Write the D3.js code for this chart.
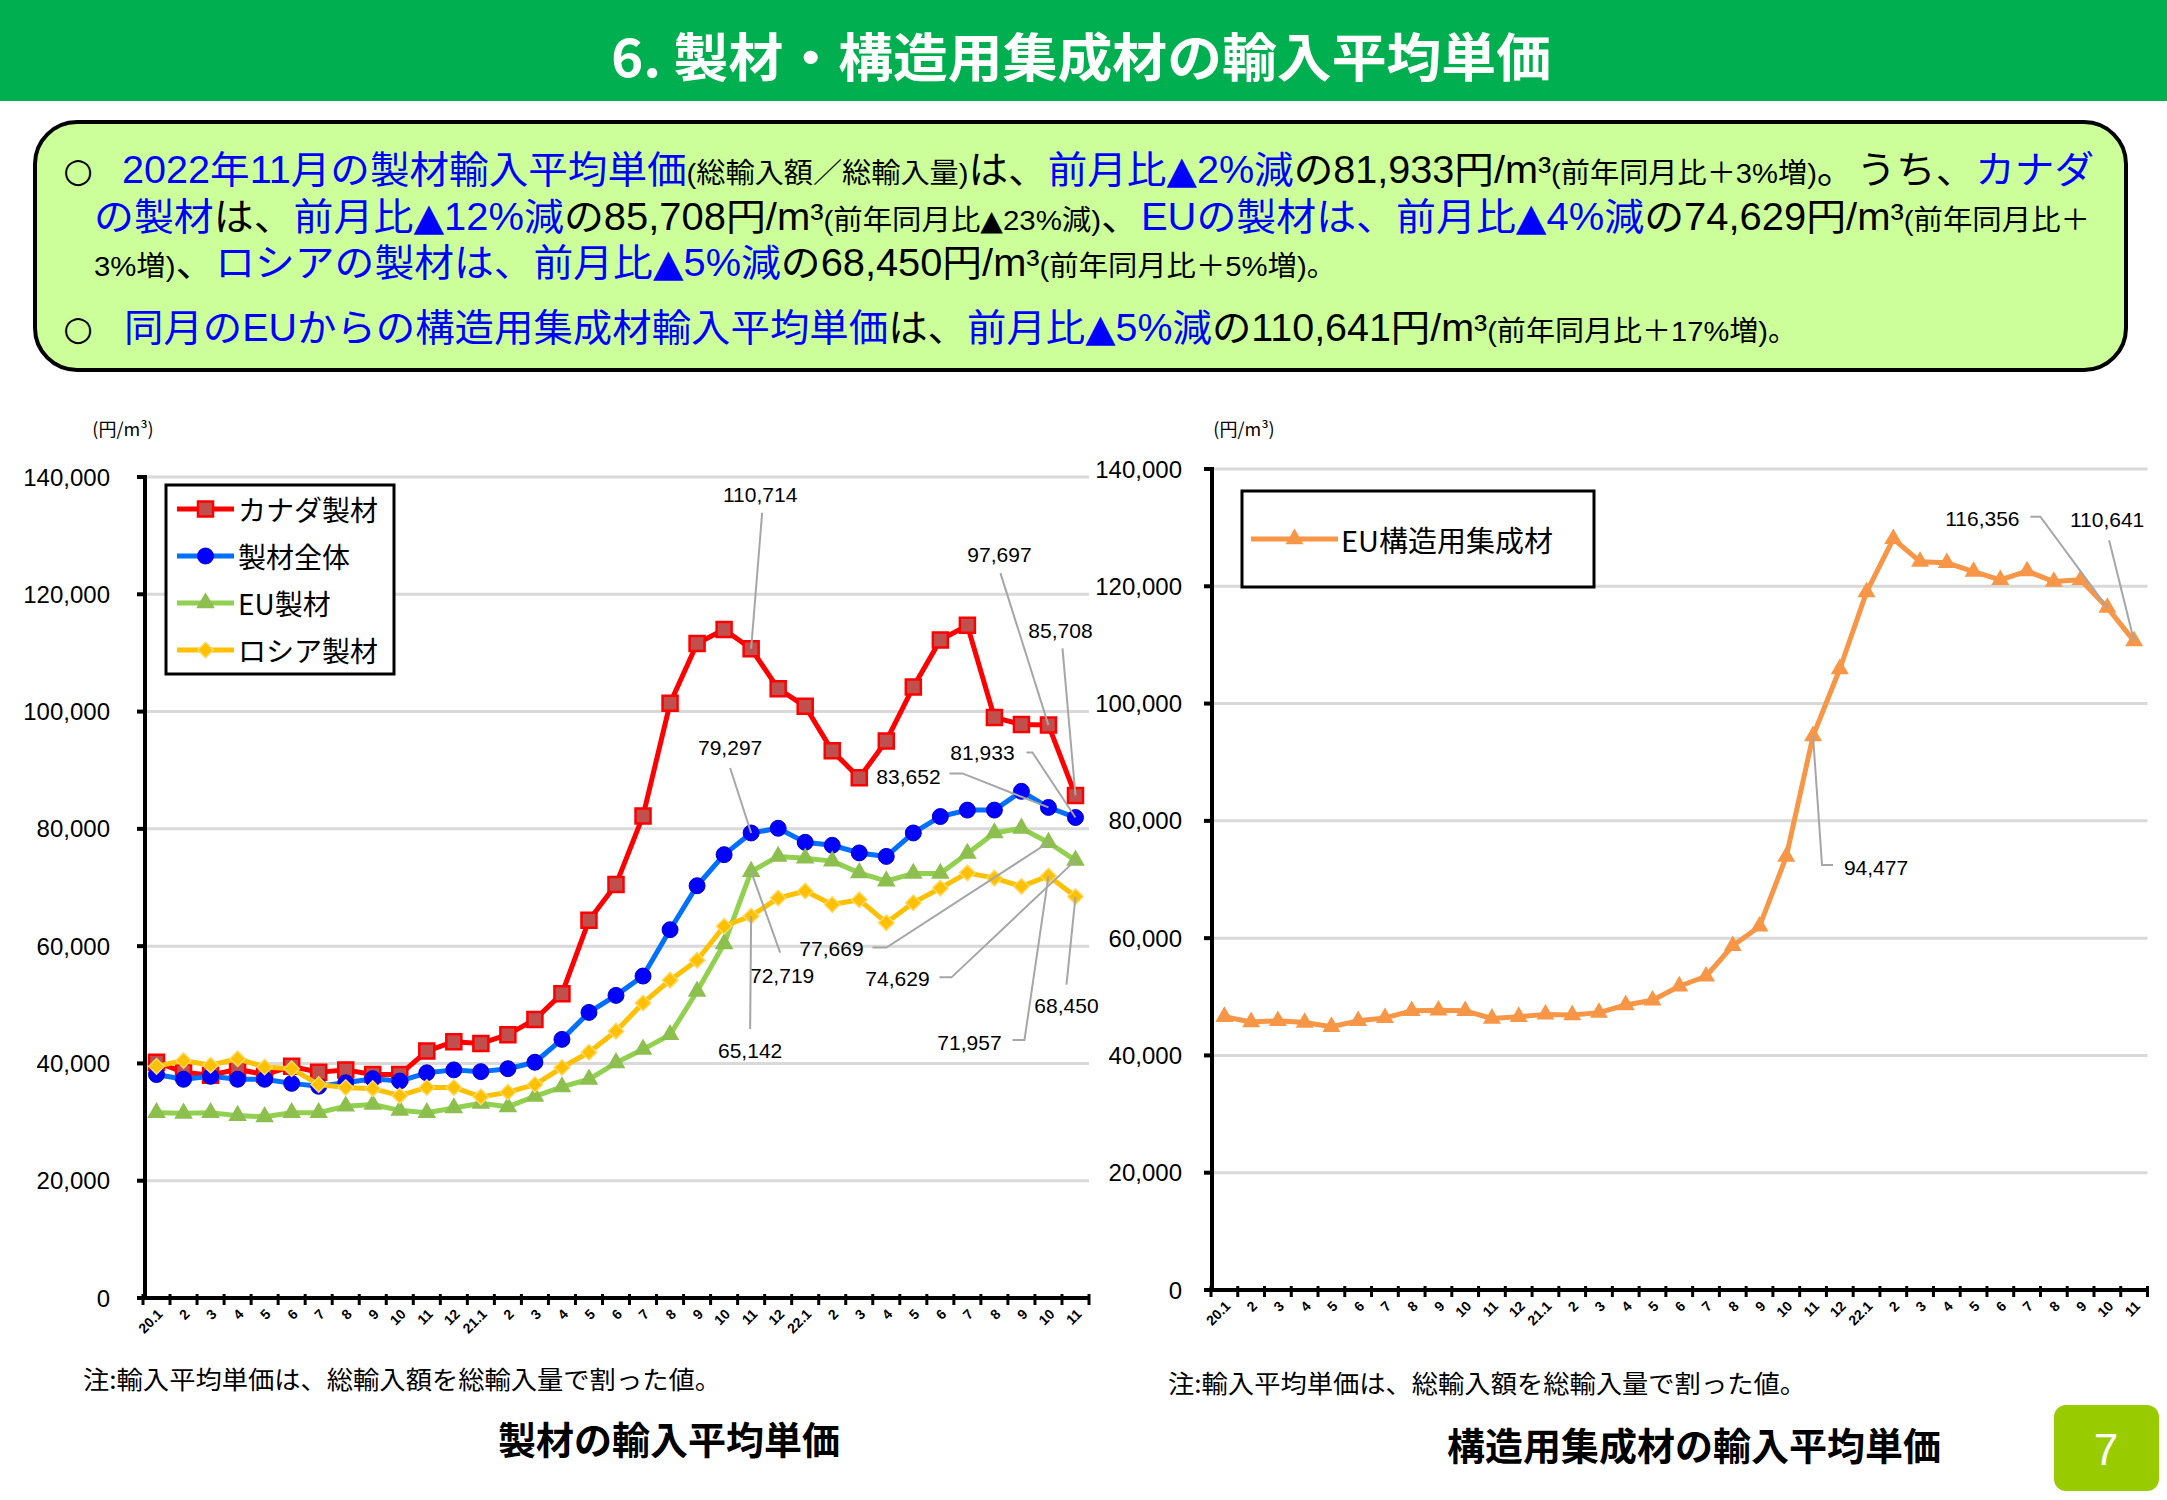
<!DOCTYPE html>
<html><head><meta charset="utf-8">
<script src="https://cdn.jsdelivr.net/npm/d3@7"></script>
<style>body{margin:0;background:#fff}svg{display:block}</style>
</head><body>
<svg id="c" width="2167" height="1500"></svg>
<script>
// ---------------- DATA ----------------
const monthLabels = ["20.1","2","3","4","5","6","7","8","9","10","11","12",
  "21.1","2","3","4","5","6","7","8","9","10","11","12",
  "22.1","2","3","4","5","6","7","8","9","10","11"];
const canada  = [40200,38500,38000,39000,38100,39500,38500,38900,38100,38100,
  42100,43700,43400,44900,47500,51900,64400,70500,82200,101400,
  111600,114000,110714,103900,100900,93300,88700,95000,104200,112200,
  114700,99000,97800,97697,85708];
const overall = [38100,37300,37800,37300,37300,36600,36100,36700,37400,37000,
  38400,38900,38600,39100,40200,44100,48700,51600,54900,62800,
  70300,75600,79297,80100,77700,77200,75900,75300,79300,82100,
  83200,83200,86400,83652,81933];
const euLumber = [31600,31500,31600,31100,30900,31600,31600,32700,33000,32000,
  31600,32400,33200,32600,34400,36000,37300,40100,42400,44900,
  52300,60400,72719,75300,75000,74500,72500,71100,72400,72400,
  75800,79300,80100,77669,74629];
const russia = [39500,40500,39700,40800,39400,39100,36400,35900,35700,34500,
  35900,35900,34300,35100,36400,39300,41900,45500,50300,54200,
  57600,63400,65142,68200,69400,67100,67900,64000,67400,69900,
  72500,71600,70200,71957,68450];
const euGlulam = [46600,45700,45900,45600,44900,45900,46400,47600,47700,47600,
  46300,46600,47000,46900,47300,48600,49400,51800,53500,58700,
  62000,73900,94477,105900,119000,128100,124200,124000,122500,121100,
  122600,120800,121100,116356,110641];
const yTicks = [0,20000,40000,60000,80000,100000,120000,140000];
const seriesNames = ["カナダ製材","製材全体","EU製材","ロシア製材"];
const glulamName = "EU構造用集成材";

const titleText = "6. 製材・構造用集成材の輸入平均単価";
const introLines = [
  [["2022年11月の製材輸入平均単価","b",0],["(総輸入額／総輸入量)","k",1],["は、","k",0],["前月比▲2%減","b",0],["の81,933円/m³","k",0],["(前年同月比＋3%増)","k",1],["。うち、","k",0],["カナダ","b",0]],
  [["の製材","b",0],["は、","k",0],["前月比▲12%減","b",0],["の85,708円/m³","k",0],["(前年同月比▲23%減)","k",1],["、","k",0],["EUの製材は、前月比▲4%減","b",0],["の74,629円/m³","k",0],["(前年同月比＋","k",1]],
  [["3%増)","k",1],["、","k",0],["ロシアの製材は、前月比▲5%減","b",0],["の68,450円/m³","k",0],["(前年同月比＋5%増)。","k",1]],
  [["同月のEUからの構造用集成材輸入平均単価","b",0],["は、","k",0],["前月比▲5%減","b",0],["の110,641円/m³","k",0],["(前年同月比＋17%増)。","k",1]]
];
const noteText = "注:輸入平均単価は、総輸入額を総輸入量で割った値。";
const leftTitle = "製材の輸入平均単価";
const rightTitle = "構造用集成材の輸入平均単価";
const unitText = "(円/m³)";
const pageNo = "7";

// ---------------- RENDER ----------------
const W = 2167, H = 1500;
const svg = d3.select("#c");
const JP = "'Noto Sans CJK JP','Noto Sans',sans-serif";
const MIX = "'Liberation Sans','Noto Sans CJK JP',sans-serif";
const SYM = "'DejaVu Sans','Liberation Sans',sans-serif";
const NUM = "'Liberation Sans',Arial,sans-serif";
const fmt = d3.format(",");

// header
svg.append("rect").attr("x",0).attr("y",0).attr("width",W).attr("height",101).attr("fill","#00b050");
svg.append("text").attr("x",1081).attr("y",54).attr("text-anchor","middle")
  .attr("dominant-baseline","central").attr("fill","#fff").attr("font-family",JP)
  .attr("font-weight","bold").attr("font-size",52).attr("textLength",940)
  .attr("lengthAdjust","spacingAndGlyphs").text(titleText);

// intro box
svg.append("rect").attr("x",35).attr("y",122).attr("width",2091).attr("height",248)
  .attr("rx",42).attr("ry",42).attr("fill","#ccff99").attr("stroke","#000").attr("stroke-width",4);
const lineGeom = [{x:122,y:170,w:1972,bullet:true},{x:94,y:217,w:1996},{x:94,y:263,w:1242},{x:124,y:328,w:1673,bullet:true}];
introLines.forEach((segs,i)=>{
  const g = lineGeom[i];
  if (g.bullet) svg.append("text").attr("x",78).attr("y",g.y+12).attr("text-anchor","middle")
    .attr("font-family",SYM).attr("font-size",34).attr("fill","#000").text("○");
  const nodes = segs.map(s=>{
    const t = svg.append("text").attr("y",g.y+13).attr("font-family",MIX)
      .attr("fill", s[1]==="b" ? "#0000ff" : "#000").attr("font-size", s[2] ? 28 : 38);
    s[0].split(/(▲)/).filter(p=>p.length).forEach(p=>{
      const ts = t.append("tspan").text(p);
      if (p==="▲") ts.attr("font-family",SYM);
    });
    return t;
  });
  const widths = nodes.map(n=>n.node().getComputedTextLength());
  const k = g.w / d3.sum(widths);
  let cx = g.x;
  nodes.forEach((n,j)=>{
    const w = widths[j]*k;
    n.attr("x",cx).attr("textLength",w).attr("lengthAdjust","spacingAndGlyphs");
    cx += w;
  });
});

// chart builder
function chart(cfg){
  const x = d3.scalePoint().domain(d3.range(monthLabels.length)).range([cfg.x0,cfg.x1]).padding(0.5);
  const y = d3.scaleLinear().domain([0,140000]).range([cfg.yBot,cfg.yTop]);
  const g = svg.append("g");
  g.selectAll(".grid").data(yTicks.filter(d=>d>0)).join("line")
    .attr("x1",cfg.axisX).attr("x2",cfg.x1).attr("y1",d=>y(d)).attr("y2",d=>y(d))
    .attr("stroke","#d9d9d9").attr("stroke-width",3);
  g.append("line").attr("x1",cfg.axisX).attr("x2",cfg.axisX).attr("y1",y(140000)-2).attr("y2",cfg.yBot+2)
    .attr("stroke","#000").attr("stroke-width",4);
  g.selectAll(".yt").data(yTicks).join("line")
    .attr("x1",cfg.axisX-8).attr("x2",cfg.axisX).attr("y1",d=>y(d)).attr("y2",d=>y(d))
    .attr("stroke","#000").attr("stroke-width",4);
  g.selectAll(".yl").data(yTicks).join("text")
    .attr("x",cfg.labelRight).attr("y",d=>y(d)).attr("text-anchor","end").attr("dominant-baseline","central")
    .attr("font-family",NUM).attr("font-size",24).attr("fill","#000").text(d=>fmt(d));
  const step = x.step();
  g.append("line").attr("x1",cfg.axisX).attr("x2",cfg.x1).attr("y1",cfg.yBot).attr("y2",cfg.yBot)
    .attr("stroke","#000").attr("stroke-width",4);
  g.selectAll(".xt").data(d3.range(monthLabels.length+1)).join("line")
    .attr("x1",d=>cfg.x0+d*step).attr("x2",d=>cfg.x0+d*step).attr("y1",cfg.yBot-4).attr("y2",cfg.yBot+7)
    .attr("stroke","#000").attr("stroke-width",3);
  g.selectAll(".xl").data(monthLabels).join("text")
    .attr("transform",(d,i)=>`translate(${x(i)+7},${cfg.yBot+17}) rotate(-45)`)
    .attr("text-anchor","end").attr("font-family",NUM).attr("font-weight","bold")
    .attr("font-size",14).attr("fill","#000").text(d=>d);
  g.append("text").attr("x",cfg.unitX).attr("y",428).attr("text-anchor","middle").attr("dominant-baseline","central")
    .attr("font-family",JP).attr("font-size",18).attr("fill","#000").text(unitText);
  return {x,y,g};
}

const markerDefs = {
  square:{sym:d3.symbolSquare,size:225,rot:0},
  circle:{sym:d3.symbolCircle,size:200,rot:0},
  triangle:{sym:d3.symbolTriangle,size:150,rot:0},
  diamond:{sym:d3.symbolSquare,size:120,rot:45}
};
function drawSeries(c, vals, st){
  const line = d3.line().x((d,i)=>c.x(i)).y(d=>c.y(d));
  c.g.append("path").datum(vals).attr("d",line).attr("fill","none")
    .attr("stroke",st.line).attr("stroke-width",5).attr("stroke-linejoin","round");
  const m = markerDefs[st.marker];
  c.g.selectAll(null).data(vals).join("path")
    .attr("d",d3.symbol().type(m.sym).size(st.size||m.size))
    .attr("transform",(d,i)=>`translate(${c.x(i)},${c.y(d)}) rotate(${m.rot})`)
    .attr("fill",st.fill).attr("stroke",st.stroke||"none").attr("stroke-width",st.sw||0);
}
function legendItem(g, x1, x2, yy, st, label, tx, fs){
  g.append("line").attr("x1",x1).attr("x2",x2).attr("y1",yy).attr("y2",yy).attr("stroke",st.line).attr("stroke-width",5);
  const m = markerDefs[st.marker];
  g.append("path").attr("d",d3.symbol().type(m.sym).size(st.size||m.size))
    .attr("transform",`translate(${(x1+x2)/2},${yy}) rotate(${m.rot})`)
    .attr("fill",st.fill).attr("stroke",st.stroke||"none").attr("stroke-width",st.sw||0);
  g.append("text").attr("x",tx).attr("y",yy).attr("dominant-baseline","central")
    .attr("font-family",JP).attr("font-size",fs).attr("fill","#000").text(label);
}
function annotate(c, vals, idx, lab, leader){
  const px = c.x(idx), py = c.y(vals[idx]);
  const pts = leader.map(p=>[px+p[0],py+p[1]]).concat([[px,py]]);
  c.g.append("path").attr("d",d3.line()(pts)).attr("fill","none").attr("stroke","#a6a6a6").attr("stroke-width",2);
  c.g.append("text").attr("x",px+lab[0]).attr("y",py+lab[1]).attr("text-anchor","middle")
    .attr("dominant-baseline","central").attr("font-family",NUM).attr("font-size",21).attr("fill","#000")
    .text(fmt(vals[idx]));
}

// ----- left chart -----
const L = chart({x0:143,x1:1089,yTop:477,yBot:1298,axisX:145,labelRight:110,unitX:123});
const styles = [
  {line:"#ff0000",marker:"square",fill:"#c0504d",stroke:"#ff0000",sw:2.5},
  {line:"#0070ff",marker:"circle",fill:"#0000ff",stroke:"#0000cc",sw:1},
  {line:"#92d050",marker:"triangle",fill:"#8cbf4e"},
  {line:"#ffc000",marker:"diamond",fill:"#ffc000",stroke:"#ffd966",sw:1.5}
];
const leftSeries = [canada, overall, euLumber, russia];
leftSeries.forEach((s,i)=>drawSeries(L,s,styles[i]));

annotate(L, canada, 22, [9,-154], [[11,-136]]);
annotate(L, canada, 33, [-49,-171], [[-48,-152]]);
annotate(L, canada, 34, [-15,-165], [[-13,-147]]);
annotate(L, overall, 22, [-21,-85], [[-21,-65]]);
annotate(L, overall, 34, [-93,-65], [[-49,-65],[-43,-65]]);
annotate(L, overall, 33, [-140,-31], [[-99,-34],[-86,-34]]);
annotate(L, euLumber, 33, [-217,106], [[-176,105],[-162,105]]);
annotate(L, euLumber, 22, [31,104], [[29,81]]);
annotate(L, euLumber, 34, [-178,118], [[-136,117],[-124,117]]);
annotate(L, russia, 22, [-1,135], [[-1,113]]);
annotate(L, russia, 33, [-79,166], [[-36,164],[-24,164]]);
annotate(L, russia, 34, [-9,109], [[-9,88]]);

L.g.append("rect").attr("x",166).attr("y",485).attr("width",228).attr("height",189)
  .attr("fill","#fff").attr("stroke","#000").attr("stroke-width",3);
[509,556,603,650].forEach((yy,i)=>legendItem(L.g,177,234,yy,styles[i],seriesNames[i],238,28));

// ----- right chart -----
const R = chart({x0:1211,x1:2147.5,yTop:469,yBot:1290,axisX:1212,labelRight:1182,unitX:1244});
const gStyle = {line:"#f79646",marker:"triangle",fill:"#f79646",size:140};
drawSeries(R, euGlulam, gStyle);
annotate(R, euGlulam, 22, [63,132], [[20,129],[9,129]]);
annotate(R, euGlulam, 33, [-125,-89], [[-77,-91],[-67,-91]]);
annotate(R, euGlulam, 34, [-27,-122], [[-25,-101]]);
R.g.append("rect").attr("x",1242).attr("y",491).attr("width",352).attr("height",96)
  .attr("fill","#fff").attr("stroke","#000").attr("stroke-width",3);
legendItem(R.g,1251,1338,539,gStyle,glulamName,1341,29);

// notes & titles
[[83,1378],[1168,1382]].forEach(p=>{
  svg.append("text").attr("x",p[0]).attr("y",p[1]).attr("dominant-baseline","central")
    .attr("font-family",JP).attr("font-size",25).attr("textLength",638).attr("lengthAdjust","spacingAndGlyphs")
    .attr("fill","#000").text(noteText);
});
svg.append("text").attr("x",669).attr("y",1437).attr("text-anchor","middle").attr("dominant-baseline","central")
  .attr("font-family",JP).attr("font-weight","bold").attr("font-size",38).attr("fill","#000").text(leftTitle);
svg.append("text").attr("x",1694).attr("y",1443).attr("text-anchor","middle").attr("dominant-baseline","central")
  .attr("font-family",JP).attr("font-weight","bold").attr("font-size",38).attr("fill","#000").text(rightTitle);

svg.append("rect").attr("x",2054).attr("y",1405).attr("width",105).attr("height",86).attr("rx",12)
  .attr("fill","#99cc00");
svg.append("text").attr("x",2106).attr("y",1449).attr("text-anchor","middle").attr("dominant-baseline","central")
  .attr("font-family",NUM).attr("font-size",44).attr("fill","#fff").text(pageNo);
</script>
</body></html>
